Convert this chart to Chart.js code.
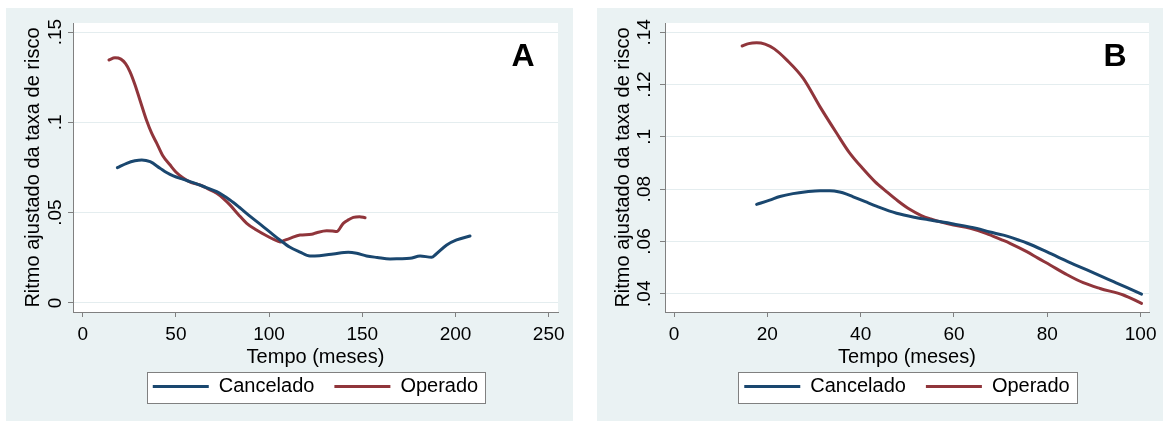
<!DOCTYPE html>
<html>
<head>
<meta charset="utf-8">
<script src="https://cdn.jsdelivr.net/npm/chart.js@4.4.0/dist/chart.umd.min.js"></script>
<style>
  html, body { margin: 0; padding: 0; background: #ffffff; width: 1168px; height: 421px; overflow: hidden; }
  canvas { position: absolute; background: #eaf2f3; }
  #panelA { left: 6px; top: 8px; }
  #panelB { left: 597px; top: 8px; }
</style>
</head>
<body>
<canvas id="panelA" width="567" height="413"></canvas>
<canvas id="panelB" width="566" height="413"></canvas>
<script>
// Series names
const seriesNames = ['Cancelado', 'Operado'];
const xTitle = 'Tempo (meses)';
const yTitle = 'Ritmo ajustado da taxa de risco';

// Panel A — full follow-up
const monthsA_cancelado = [18.6, 23.6, 28, 31.7, 36.2, 41.5, 45, 48.6, 54, 59.3, 66, 71.9, 79, 84, 89.7, 96, 101, 106, 111, 116.6, 121.9, 127, 134.4, 142.5, 147, 152.3, 158, 164.9, 170, 175.6, 181, 187.2, 189.5, 195.3, 200.6, 207.8];
const rateA_cancelado   = [0.0749, 0.0773, 0.0787, 0.0792, 0.0782, 0.0746, 0.0722, 0.0703, 0.0684, 0.0666, 0.0640, 0.0616, 0.0570, 0.0530, 0.0481, 0.0430, 0.0388, 0.0347, 0.0310, 0.0282, 0.0260, 0.0262, 0.0271, 0.0281, 0.0275, 0.0260, 0.0252, 0.0244, 0.0245, 0.0247, 0.0260, 0.0253, 0.0270, 0.0321, 0.0349, 0.0371];
const monthsA_operado   = [14.1, 17.3, 20.5, 23, 25.4, 28, 30.7, 34.3, 37, 39.7, 43, 46.8, 50, 53.9, 58, 62.9, 67, 71.9, 75.5, 79, 83.5, 88, 93, 98.7, 102.5, 105.9, 108.5, 111.2, 116.6, 122.8, 125.5, 130.9, 134, 136.3, 139.8, 142.5, 145.2, 148.5, 151.5];
const rateA_operado     = [0.1345, 0.1357, 0.1350, 0.1325, 0.1280, 0.1210, 0.1124, 0.1010, 0.0940, 0.0885, 0.0815, 0.0765, 0.0725, 0.0692, 0.0668, 0.0653, 0.0633, 0.0607, 0.0578, 0.0543, 0.0490, 0.0441, 0.0405, 0.0372, 0.0352, 0.0338, 0.0348, 0.0358, 0.0376, 0.0380, 0.0389, 0.0400, 0.0398, 0.0395, 0.0441, 0.0460, 0.0474, 0.0478, 0.0472];
const xTicksA = [0, 50, 100, 150, 200, 250];
const xTickLabelsA = ['0', '50', '100', '150', '200', '250'];
const yTicksA = [0, 0.05, 0.1, 0.15];
const yTickLabelsA = ['0', '.05', '.1', '.15'];

// Panel B — first 100 months
const monthsB_cancelado = [17.7, 20.5, 22.7, 25.5, 28.4, 31.3, 33.4, 35.5, 37, 38.4, 41, 43.5, 47.7, 52, 54.9, 59.9, 64.9, 67.7, 70.6, 74.2, 75.6, 79, 82, 85, 88.5, 91.5, 94.2, 97, 100.2];
const rateB_cancelado   = [0.0742, 0.0758, 0.0772, 0.0783, 0.0790, 0.0794, 0.0794, 0.0789, 0.0781, 0.0771, 0.0752, 0.0734, 0.0708, 0.0691, 0.0682, 0.0667, 0.0650, 0.0636, 0.0624, 0.0603, 0.0594, 0.0568, 0.0543, 0.0518, 0.0491, 0.0467, 0.0446, 0.0424, 0.0398];
const monthsB_operado   = [14.6, 16, 17.7, 19.5, 21.5, 24.2, 27.7, 31.3, 34.9, 37.5, 40.6, 43, 45.6, 48, 50.6, 53, 55, 57.5, 59.9, 63.5, 67, 70, 72, 75.6, 78, 80.6, 84, 87.7, 91.3, 96.3, 100.2];
const rateB_operado     = [0.1348, 0.1357, 0.1360, 0.1355, 0.1337, 0.1294, 0.1224, 0.1115, 0.1013, 0.0942, 0.0876, 0.0830, 0.0790, 0.0755, 0.0722, 0.0699, 0.0686, 0.0673, 0.0663, 0.0650, 0.0630, 0.0608, 0.0593, 0.0561, 0.0536, 0.0510, 0.0475, 0.0442, 0.0420, 0.0395, 0.0363];
const xTicksB = [0, 20, 40, 60, 80, 100];
const xTickLabelsB = ['0', '20', '40', '60', '80', '100'];
const yTicksB = [0.04, 0.06, 0.08, 0.1, 0.12, 0.14];
const yTickLabelsB = ['.04', '.06', '.08', '.1', '.12', '.14'];

const NAVY = '#1a476f';
const MAROON = '#90353b';
const AXIS_GRAY = '#808080';
const GRID = '#e4edef';
const FONT = "'Liberation Sans', Arial, Helvetica, sans-serif";

Chart.defaults.font.family = FONT;
Chart.defaults.color = '#000000';

const toPoints = (xs, ys) => xs.map((x, i) => ({ x: x, y: ys[i] }));

// White plot region, framed legend and the panel letter
const panelDecor = {
  id: 'panelDecor',
  beforeDraw(chart, args, opts) {
    const { ctx, chartArea: a, legend } = chart;
    ctx.save();
    ctx.fillStyle = '#ffffff';
    ctx.fillRect(a.left, a.top, a.right - a.left, a.bottom - a.top);
    if (legend && legend.lineWidths) {
      const pad = legend.options.labels.padding;
      const lw = legend.lineWidths[0];
      const startX = (legend.left + pad + legend.right - lw) / 2;
      const x0 = Math.round(startX - 6) + 0.5;
      const x1 = Math.round(startX + lw - pad + 7) + 0.5;
      const cy = legend.top + pad + opts.legendFont / 2;
      const y0 = Math.round(cy - 14.5) + 0.5;
      ctx.fillRect(x0, y0, x1 - x0, 31);
      ctx.strokeStyle = AXIS_GRAY;
      ctx.lineWidth = 1;
      ctx.strokeRect(x0, y0, x1 - x0, 31);
    }
    ctx.restore();
  },
  afterDatasetsDraw(chart, args, opts) {
    const { ctx, chartArea: a } = chart;
    ctx.save();
    ctx.font = 'bold 32px "Liberation Sans Narrow", "Liberation Sans", Arial, sans-serif';
    ctx.fillStyle = '#000000';
    ctx.textAlign = 'center';
    ctx.textBaseline = 'alphabetic';
    ctx.fillText(opts.letter, a.right - opts.dx, a.top + 43);
    ctx.restore();
  }
};

function makePanel(id, cfg) {
  const lineStyle = (color) => ({
    borderColor: color,
    backgroundColor: color,
    borderWidth: 3,
    pointRadius: 0,
    pointHoverRadius: 0,
    pointStyle: 'line',
    cubicInterpolationMode: 'monotone',
    fill: false,
    borderCapStyle: 'round',
    borderJoinStyle: 'round'
  });
  return new Chart(document.getElementById(id), {
    type: 'line',
    data: {
      datasets: [
        Object.assign({ label: seriesNames[0], data: toPoints(cfg.xC, cfg.yC) }, lineStyle(NAVY)),
        Object.assign({ label: seriesNames[1], data: toPoints(cfg.xO, cfg.yO) }, lineStyle(MAROON))
      ]
    },
    options: {
      responsive: false,
      animation: false,
      events: [],
      layout: { padding: { left: 0, top: 15, right: cfg.padRight, bottom: 14.5 } },
      scales: {
        x: {
          type: 'linear',
          min: cfg.xMin, max: cfg.xMax,
          afterBuildTicks: (s) => { s.ticks = cfg.xTicks.map(v => ({ value: v })); },
          afterFit: (s) => { s.height = 44.5; },
          ticks: {
            autoSkip: false, maxRotation: 0, minRotation: 0, padding: 6,
            font: { size: 19 }, color: '#000000',
            callback: (v) => cfg.xTickLabels[cfg.xTicks.indexOf(v)]
          },
          grid: { drawOnChartArea: false, drawTicks: true, tickLength: 5, tickColor: AXIS_GRAY, tickWidth: 1 },
          border: { display: true, color: AXIS_GRAY, width: 1 },
          title: { display: true, text: xTitle, font: { size: 20 }, color: '#000000', padding: { top: 0, bottom: -12.6 } }
        },
        y: {
          type: 'linear',
          min: cfg.yMin, max: cfg.yMax,
          afterBuildTicks: (s) => { s.ticks = cfg.yTicks.map(v => ({ value: v })); },
          afterFit: (s) => { s.width = cfg.yAxisWidth; },
          ticks: {
            autoSkip: false, minRotation: 90, maxRotation: 90, crossAlign: 'center', padding: cfg.yTickPad,
            font: { size: 19 }, color: '#000000',
            callback: (v) => cfg.yTickLabels[cfg.yTicks.indexOf(v)]
          },
          grid: { color: GRID, lineWidth: 1, drawTicks: true, tickLength: 5, tickColor: AXIS_GRAY, tickWidth: 1 },
          border: { display: true, color: AXIS_GRAY, width: 1 },
          title: { display: true, text: yTitle, font: { size: 20 }, color: '#000000', padding: { top: cfg.yTitlePad, bottom: 0 } }
        }
      },
      plugins: {
        legend: {
          display: true,
          position: 'bottom',
          fullSize: false,
          labels: {
            usePointStyle: true, pointStyle: 'line', pointStyleWidth: 56,
            font: { size: 20 }, color: '#000000', padding: 20
          }
        },
        tooltip: { enabled: false },
        panelDecor: { letter: cfg.letter, dx: cfg.letterDx, legendFont: 20 }
      }
    },
    plugins: [panelDecor]
  });
}

makePanel('panelA', {
  xC: monthsA_cancelado, yC: rateA_cancelado, xO: monthsA_operado, yO: rateA_operado,
  xMin: -5.2, xMax: 255, yMin: -0.005, yMax: 0.155,
  xTicks: xTicksA, xTickLabels: xTickLabelsA, yTicks: yTicksA, yTickLabels: yTickLabelsA,
  padRight: 15, yAxisWidth: 67, yTickPad: -1.3, yTitlePad: 15, letter: 'A', letterDx: 35
});

makePanel('panelB', {
  xC: monthsB_cancelado, yC: rateB_cancelado, xO: monthsB_operado, yO: rateB_operado,
  xMin: -1.93, xMax: 101.8, yMin: 0.033, yMax: 0.1436,
  xTicks: xTicksB, xTickLabels: xTickLabelsB, yTicks: yTicksB, yTickLabels: yTickLabelsB,
  padRight: 14, yAxisWidth: 68, yTickPad: 1.7, yTitlePad: 14, letter: 'B', letterDx: 34
});
</script>
</body>
</html>
